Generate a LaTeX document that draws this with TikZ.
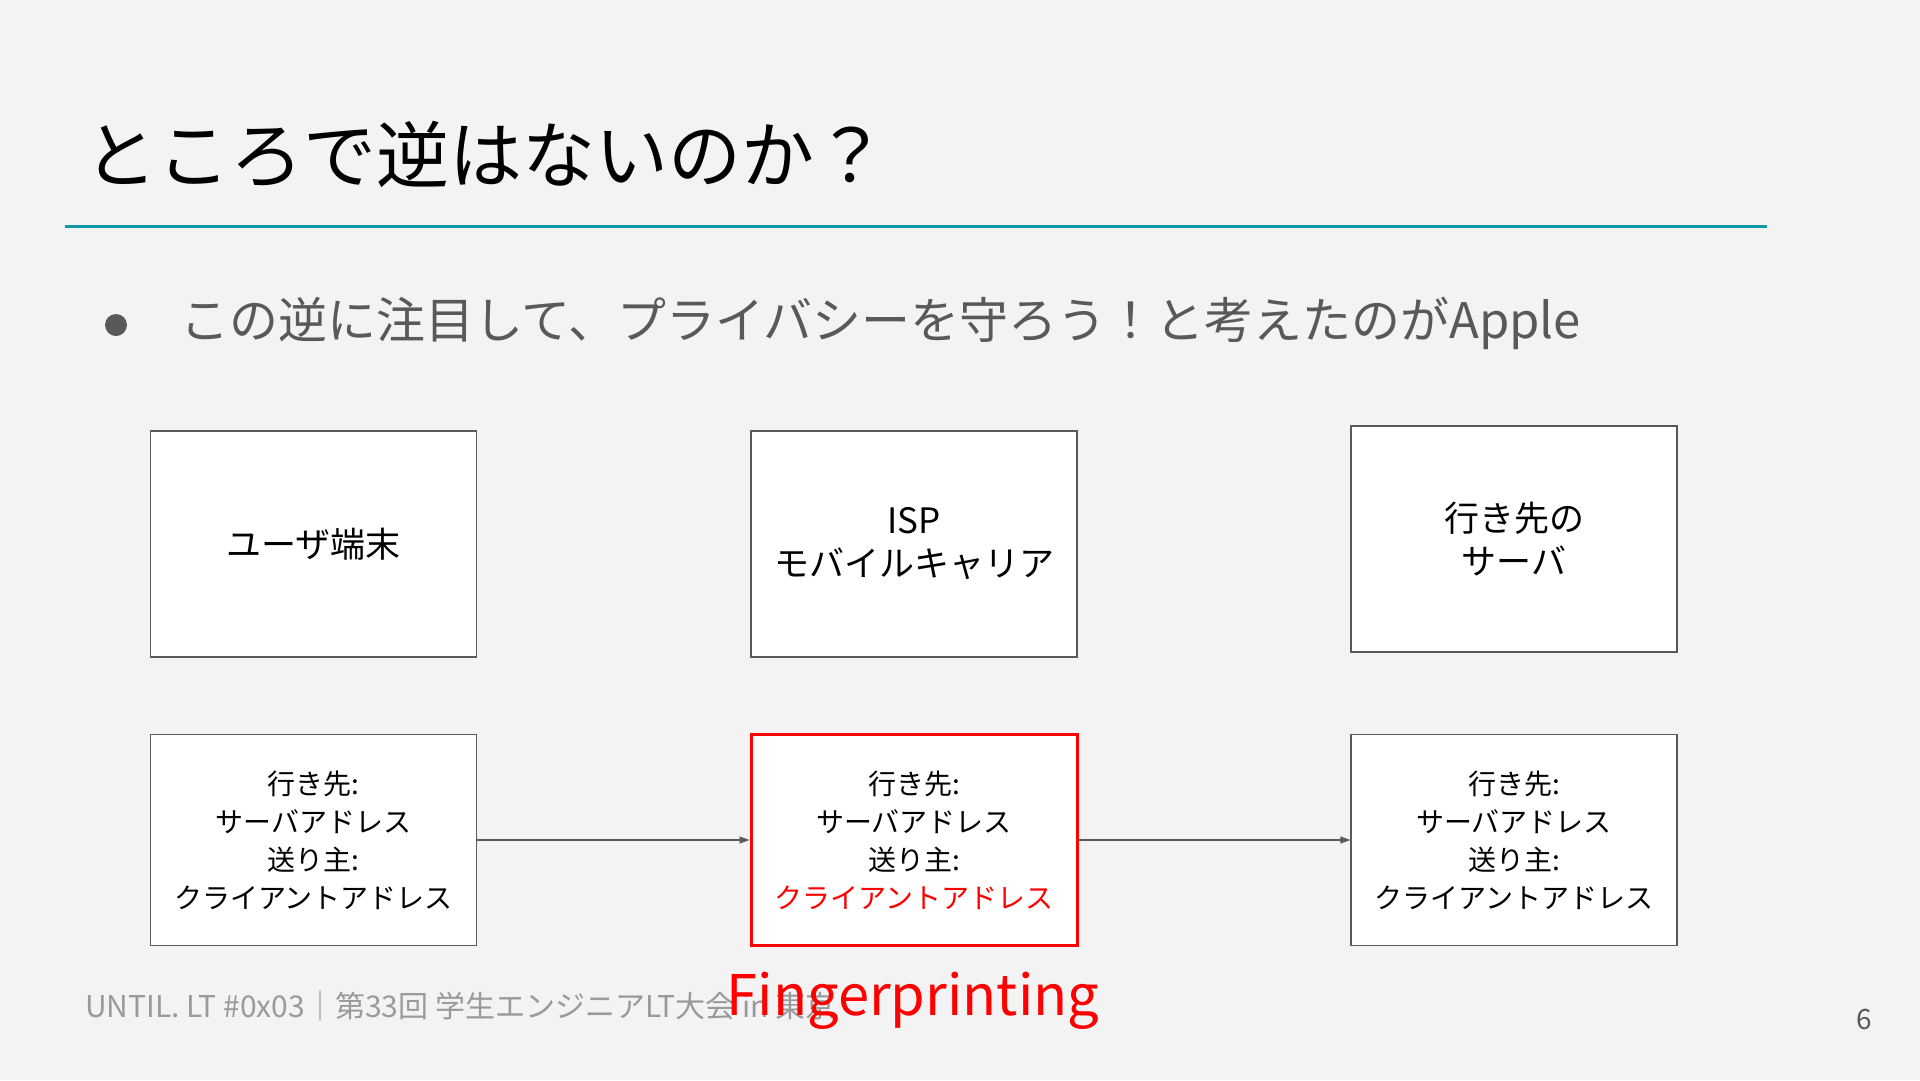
\documentclass[tikz,border=0pt]{standalone}
\usepackage{fontspec}
\setmainfont{Noto Sans CJK JP}
\usetikzlibrary{arrows.meta}
\definecolor{bg}{HTML}{F3F3F3}
\definecolor{teal1}{HTML}{0E9AA5}
\definecolor{dgray}{HTML}{595959}
\definecolor{lgray}{HTML}{9A9A9A}
\definecolor{red1}{HTML}{FF0000}
\tikzset{
  box/.style={draw=dgray, line width=1.2pt, fill=white, minimum width=326pt, inner sep=0pt, align=center, text=black},
  topbox/.style={box, minimum height=226pt, font=\fontsize{35}{43}\selectfont},
  botbox/.style={box, minimum height=211pt, font=\fontsize{28}{38}\selectfont},
  conn/.style={draw=dgray, line width=1.3pt, -{Triangle[length=10pt,width=7pt]}},
}
\begin{document}
\begin{tikzpicture}[x=1pt,y=-1pt]
\fill[bg] (0,0) rectangle (1920,1080);
\useasboundingbox (0,0) rectangle (1920,1080);
% title
\node[anchor=west, inner sep=0pt, font=\fontsize{73}{80}\selectfont] (title) at (84,154) {ところで逆はないのか？};
\coordinate (rl) at (65,226.5);
\coordinate (rr) at (1767,226.5);
\draw[teal1, line width=3pt] (rl) -- (rr);
% bullet
\node[circle, fill=dgray, minimum size=22pt, inner sep=0pt] (dot) at (116,325) {};
\node[anchor=west, inner sep=0pt, text=dgray, font=\fontsize{49}{56}\selectfont] (bul) at (180,323) {この逆に注目して、プライバシーを守ろう！と考えたのがApple};
% top boxes
\node[topbox] (b1) at (313.5,544) {ユーザ端末};
\node[topbox] (b2) at (914,544) {ISP\\モバイルキャリア};
\node[topbox] (b3) at (1514,539) {行き先の\\サーバ};
% bottom boxes
\node[botbox] (b4) at (313.5,840) {行き先:\\サーバアドレス\\送り主:\\クライアントアドレス};
\node[botbox, draw=red1, line width=3pt] (b5) at (914,840) {行き先:\\サーバアドレス\\送り主:\\\textcolor{red1}{クライアントアドレス}};
\node[botbox] (b6) at (1514,840) {行き先:\\サーバアドレス\\送り主:\\クライアントアドレス};
\draw[conn] (b4.east) -- (b5.west);
\draw[conn] (b5.east) -- (b6.west);
% footer
\node[anchor=west, inner sep=0pt, text=lgray, font=\fontsize{30}{34}\selectfont] (foot) at (85,1006) {UNTIL. LT \#0x03｜第33回 学生エンジニアLT大会 in 東京};
\node[inner sep=0pt, text=dgray, font=\fontsize{28}{32}\selectfont] (pg) at (1864,1020) {6};
\node[inner sep=0pt, text=red1, font=\fontsize{56}{60}\selectfont] (fp) at (913,1001) {Fingerprinting};
\end{tikzpicture}
\end{document}
